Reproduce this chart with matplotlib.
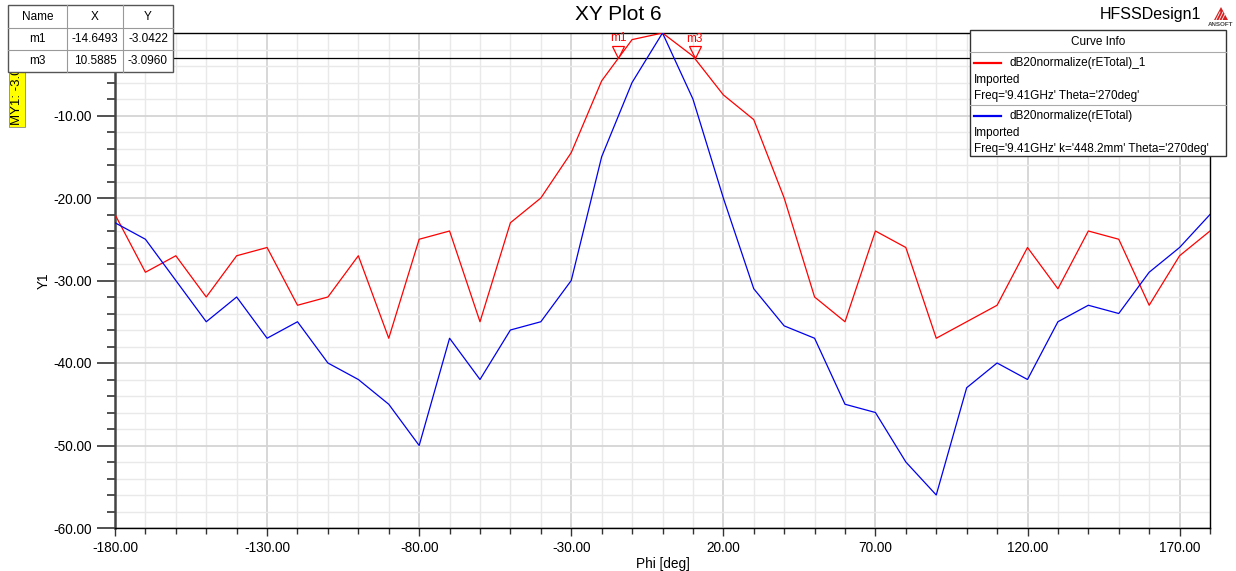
import numpy as np
import matplotlib
matplotlib.use("Agg")
import matplotlib.pyplot as plt
import matplotlib.transforms as mtransforms
from matplotlib.patches import Rectangle, Polygon
from matplotlib.lines import Line2D
from matplotlib.ticker import MultipleLocator, FuncFormatter

plt.rcParams['font.family'] = ['Liberation Sans', 'DejaVu Sans']

# data (Phi in deg, dB)
phi = np.arange(-180, 181, 10)
red_db = [-22, -29, -27, -32, -27, -26, -33, -32, -27, -37,
          -25, -24, -35, -23, -20, -14.5, -5.8, -0.8, 0, -2.8,
          -7.5, -10.5, -20, -32, -35, -24, -26, -37, -35, -33,
          -26, -31, -24, -25, -33, -27, -24]
blue_db = [-23, -25, -30, -35, -32, -37, -35, -40, -42, -45,
           -50, -37, -42, -36, -35, -30, -15, -6, 0, -8,
           -20, -31, -35.5, -37, -45, -46, -52, -56, -43, -40,
           -42, -35, -33, -34, -29, -26, -22]

marker_names = ["m1", "m3"]
marker_x = [-14.6493, 10.5885]
marker_y = [-3.0422, -3.0960]

red_name = "dB20normalize(rETotal)_1"
red_info = ["Imported", "Freq='9.41GHz' Theta='270deg'"]
blue_name = "dB20normalize(rETotal)"
blue_info = ["Imported", "Freq='9.41GHz' k='448.2mm' Theta='270deg'"]

W, H = 1236, 571
fig = plt.figure(figsize=(W / 100, H / 100), dpi=100)


def fx(x):
    return x / W


def fy(y):
    return 1 - y / H


ax = fig.add_axes([fx(115), fy(528), fx(1210) - fx(115), fy(33) - fy(528)])
ax.set_xlim(-180, 180)
ax.set_ylim(-60, 0)

ax.xaxis.set_major_locator(MultipleLocator(50))
ax.xaxis.set_minor_locator(MultipleLocator(10))
ax.yaxis.set_major_locator(MultipleLocator(10))
ax.yaxis.set_minor_locator(MultipleLocator(2))
ax.xaxis.set_major_formatter(FuncFormatter(lambda v, p: "%.2f" % v))
# the 0.00 label sits under the marker table in the original
ax.yaxis.set_major_formatter(FuncFormatter(lambda v, p: "" if v > -1 else "%.2f" % v))
ax.set_xticks(np.arange(-180, 181, 50))

ax.grid(which='major', color='#d4d4d4', linewidth=1.3)
ax.grid(which='minor', color='#e9e9e9', linewidth=1.0)
ax.set_axisbelow(True)

ax.tick_params(axis='both', which='both', direction='out', labelsize=9.8, color='#333333')
ax.tick_params(axis='y', which='major', length=13, width=1.2)
ax.tick_params(axis='y', which='minor', length=6, width=1.2)
ax.tick_params(axis='x', which='major', length=6, width=1)
ax.tick_params(axis='x', which='minor', length=4, width=1)

for s in ['bottom', 'right', 'top']:
    ax.spines[s].set_color('black')
    ax.spines[s].set_linewidth(1.0)
ax.spines['left'].set_color('#444444')
ax.spines['left'].set_linewidth(1.8)

ax.plot(phi, red_db, color='#ff0000', linewidth=0.9, zorder=3)
ax.plot(phi, blue_db, color='#0000ee', linewidth=0.9, zorder=3)

# marker reference line
ax.axhline(np.mean(marker_y), color='black', linewidth=0.9, zorder=2)

# markers m1, m3
tri_off = mtransforms.offset_copy(ax.transData, fig=fig, x=0, y=4.5, units='points')
for name, mx, my in zip(marker_names, marker_x, marker_y):
    ax.plot(mx, my, marker='v', markersize=8, markerfacecolor='none',
            markeredgecolor='#ff0000', markeredgewidth=0.9, transform=tri_off,
            clip_on=False, zorder=4)
    ax.annotate(name, (mx, my), xytext=(0, 10), textcoords='offset points',
                ha='center', va='bottom', color='#ff0000', fontsize=8.5)

ax.set_xlabel("Phi [deg]", fontsize=9.8, labelpad=1)
ax.set_ylabel("Y1", fontsize=9.8, labelpad=2)

fig.text(fx(618), fy(15), "XY Plot 6", ha='center', va='center', fontsize=15)
fig.text(fx(1150), fy(15), "HFSSDesign1", ha='center', va='center', fontsize=11.5)

# ansoft logo: red triangle with white stripes
fig.patches.append(Polygon([(fx(1214), fy(20)), (fx(1221), fy(7)), (fx(1228), fy(20))],
                           closed=True, transform=fig.transFigure,
                           facecolor='#d42020', edgecolor='none'))
for k in range(3):
    fig.lines.append(Line2D([fx(1216 + 3 * k), fx(1220 + 3 * k)], [fy(20), fy(12)],
                            transform=fig.transFigure, color='white', linewidth=0.6))
fig.text(fx(1221), fy(24), "ANSOFT", ha='center', va='center', fontsize=4.5,
         color='#444444', fontweight='bold')

# yellow MY1 label
fig.text(fx(17), fy(125), "MY1: -3.0691", rotation=90, ha='center', va='bottom',
         fontsize=9.5, zorder=5,
         bbox=dict(boxstyle='square,pad=0.15', facecolor='#ffff00', edgecolor='#888888',
                   linewidth=0.6))

# marker table
col_x = [8, 67, 123, 173]
row_y = [5, 28, 50, 72]
fig.patches.append(Rectangle((fx(8), fy(72)), fx(173) - fx(8), fy(5) - fy(72),
                             transform=fig.transFigure, facecolor='white',
                             edgecolor='#555555', linewidth=1.0, zorder=10))
for cx in col_x[1:-1]:
    fig.lines.append(Line2D([fx(cx), fx(cx)], [fy(5), fy(72)], transform=fig.transFigure,
                            color='#999999', linewidth=0.8, zorder=11))
for ry in row_y[1:-1]:
    fig.lines.append(Line2D([fx(8), fx(173)], [fy(ry), fy(ry)], transform=fig.transFigure,
                            color='#999999', linewidth=0.8, zorder=11))
rows = [["Name", "X", "Y"]] + [[n, "%.4f" % x, "%.4f" % y]
                                for n, x, y in zip(marker_names, marker_x, marker_y)]
for r, row in enumerate(rows):
    yc = (row_y[r] + row_y[r + 1]) / 2
    for c, val in enumerate(row):
        xc = (col_x[c] + col_x[c + 1]) / 2
        fig.text(fx(xc), fy(yc), val, ha='center', va='center', fontsize=8.5, zorder=12)

# curve info legend
fig.patches.append(Rectangle((fx(970), fy(156)), fx(1226) - fx(970), fy(30) - fy(156),
                             transform=fig.transFigure, facecolor='white',
                             edgecolor='#333333', linewidth=1.0, zorder=10))
for ry in [52, 105]:
    fig.lines.append(Line2D([fx(970), fx(1226)], [fy(ry), fy(ry)], transform=fig.transFigure,
                            color='#aaaaaa', linewidth=0.8, zorder=11))
fig.text(fx(1098), fy(42), "Curve Info", ha='center', va='center', fontsize=8.5, zorder=12)
entries = [(red_name, red_info, '#ff0000', 63), (blue_name, blue_info, '#0000ee', 116)]
for name, info, col, y0 in entries:
    fig.lines.append(Line2D([fx(974), fx(1001)], [fy(y0), fy(y0)], transform=fig.transFigure,
                            color=col, linewidth=1.6, zorder=12))
    fig.text(fx(1010), fy(y0), name, ha='left', va='center', fontsize=8.5, zorder=12)
    for k, line in enumerate(info):
        fig.text(fx(974), fy(y0 + 17 + 16 * k), line, ha='left', va='center',
                 fontsize=8.5, zorder=12)

fig.savefig("out.png", dpi=100)
